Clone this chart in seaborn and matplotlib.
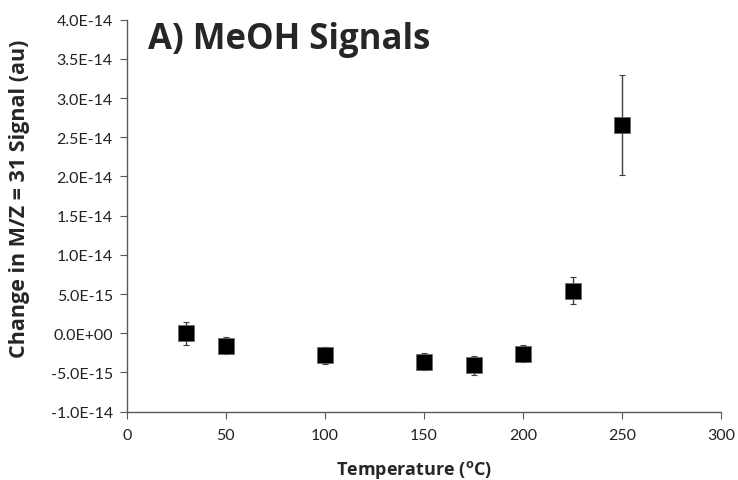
import numpy as np
import pandas as pd
import matplotlib
matplotlib.use("Agg")
import matplotlib.pyplot as plt
import seaborn as sns

# data
temperature = [30, 50, 100, 150, 175, 200, 225, 250]
signal = [0.0e-15, -1.6e-15, -2.8e-15, -3.6e-15, -4.1e-15, -2.6e-15, 5.45e-15, 26.6e-15]
signal_err = [1.5e-15, 1.1e-15, 1.1e-15, 1.1e-15, 1.2e-15, 1.1e-15, 1.75e-15, 6.35e-15]

x_ticks = [0, 50, 100, 150, 200, 250, 300]
y_ticks = [-1.0e-14, -5.0e-15, 0.0, 5.0e-15, 1.0e-14, 1.5e-14, 2.0e-14, 2.5e-14,
           3.0e-14, 3.5e-14, 4.0e-14]
y_tick_labels = ["-1.0E-14", "-5.0E-15", "0.0E+00", "5.0E-15", "1.0E-14", "1.5E-14",
                 "2.0E-14", "2.5E-14", "3.0E-14", "3.5E-14", "4.0E-14"]

df = pd.DataFrame({"T": temperature, "S": signal, "err": signal_err})

sns.set_style("white")
plt.rcParams['font.family'] = ['Lato', 'DejaVu Sans']

fig = plt.figure(figsize=(7.38, 4.81), dpi=100)
ax = fig.add_axes([0.1717, 0.142, 0.8057, 0.815])

ax.errorbar(df["T"], df["S"], yerr=df["err"], fmt="none", ecolor="#404040",
            elinewidth=1.0, capsize=2, capthick=0.8, zorder=2)
sns.scatterplot(data=df, x="T", y="S", marker="s", s=135, color="black",
                edgecolor="#666666", linewidth=0.5, ax=ax, zorder=3, legend=False)

ax.set_xlim(0, 300)
ax.set_ylim(-1.0e-14, 4.0e-14)
ax.set_xticks(x_ticks)
ax.set_yticks(y_ticks)
ax.set_yticklabels(y_tick_labels)

for side in ["top", "right"]:
    ax.spines[side].set_visible(False)
for side in ["left", "bottom"]:
    ax.spines[side].set_color("#595959")
    ax.spines[side].set_linewidth(1.0)

ax.tick_params(axis="both", direction="out", length=5, color="#595959", labelsize=11.5,
               labelcolor="#222222", left=True, bottom=True)
ax.tick_params(axis="y", pad=5)
ax.tick_params(axis="x", pad=7)

ax.set_xlabel("Temperature ($\\mathregular{^{o}}$C)", fontsize=13, fontweight="bold",
              family=["Open Sans", "DejaVu Sans"])
ax.set_ylabel("Change in M/Z = 31 Signal (au)", fontsize=15.5, fontweight="bold",
              family=["Open Sans", "DejaVu Sans"])
ax.xaxis.set_label_coords(0.483, -0.118)
ax.yaxis.set_label_coords(-0.163, 0.545)

ax.text(0.036, 0.95, "A) MeOH Signals", transform=ax.transAxes, fontsize=25,
        fontweight="bold", va="center", ha="left", family=["Open Sans", "DejaVu Sans"])

fig.savefig("out.png", dpi=100, facecolor="white")
